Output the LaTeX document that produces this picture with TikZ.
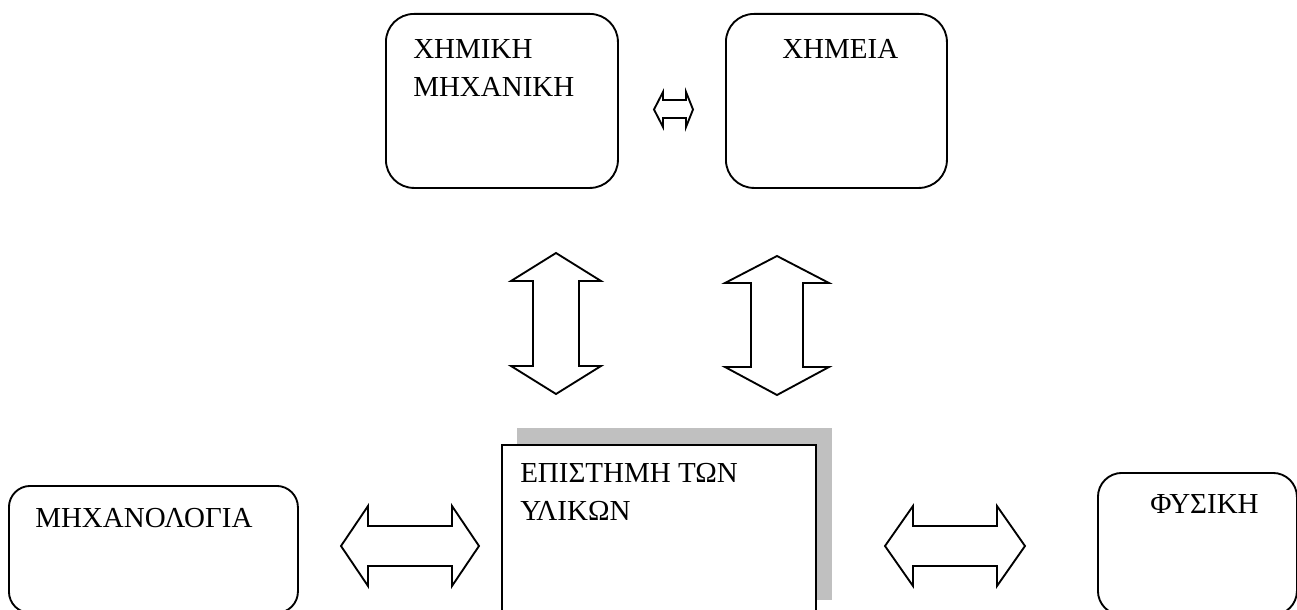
\documentclass[tikz,border=0pt]{standalone}
\usepackage{fontspec}
\setmainfont{Liberation Serif}
\begin{document}
\begin{tikzpicture}[x=0.75pt,y=-0.75pt,
  rbox/.style={draw=black, line width=1.4pt, fill=white, anchor=north west, inner sep=0pt},
  sbox/.style={draw=black, line width=1.4pt, fill=white, anchor=north west, inner sep=0pt},
  shadowbox/.style={fill=shadowgray, draw=none, anchor=north west, inner sep=0pt},
  lbl/.style={anchor=base west, inner sep=0pt, align=left, font=\fontsize{21.75pt}{28.5pt}\selectfont},
  barrow/.style={draw=black, line width=1.4pt, fill=white, line join=miter}]
\definecolor{shadowgray}{RGB}{192,192,192}
\useasboundingbox (0,0) rectangle (1297,610);
\clip (0,0) rectangle (1297,610);

% top boxes
\node[rbox, rounded corners=21pt, minimum width=232*0.75pt, minimum height=174*0.75pt] (chemeng) at (385,13) {};
\node[rbox, rounded corners=21pt, minimum width=221*0.75pt, minimum height=174*0.75pt] (chem) at (725,13) {};
\node[lbl] (chemengtxt) at (413,97) {ΧΗΜΙΚΗ\\ΜΗΧΑΝΙΚΗ};
\node[lbl] (chemtxt) at (782,59) {ΧΗΜΕΙΑ};

% bottom boxes
\node[rbox, rounded corners=16pt, minimum width=289*0.75pt, minimum height=127*0.75pt] (mech) at (8,485) {};
\node[lbl] (mechtxt) at (35,527) {ΜΗΧΑΝΟΛΟΓΙΑ};

\node[shadowbox, minimum width=315*0.75pt, minimum height=172*0.75pt] (matshadow) at (517,428) {};
\node[sbox, minimum width=314*0.75pt, minimum height=172*0.75pt] (mat) at (501,444) {};
\node[lbl] (mattxt) at (520,520) {ΕΠΙΣΤΗΜΗ ΤΩΝ\\ΥΛΙΚΩΝ};

\node[rbox, rounded corners=18pt, minimum width=199*0.75pt, minimum height=142*0.75pt] (phys) at (1097,472) {};
\node[lbl] (phystxt) at (1150,513) {ΦΥΣΙΚΗ};

% small double arrow between top boxes
\draw[barrow] (654,109.5) -- (663,92) -- (663,100) -- (686,100) -- (686,92) -- (693,109.5)
  -- (686,127) -- (686,118) -- (663,118) -- (663,127) -- cycle;

% vertical double arrows
\draw[barrow] (556,253) -- (601,281) -- (579,281) -- (579,366) -- (601,366) -- (556,394)
  -- (511,366) -- (533,366) -- (533,281) -- (511,281) -- cycle;
\draw[barrow] (777,256) -- (829,283) -- (803,283) -- (803,367) -- (829,367) -- (777,395)
  -- (725,367) -- (751,367) -- (751,283) -- (725,283) -- cycle;

% horizontal double arrows
\draw[barrow] (341,546) -- (368,506) -- (368,526) -- (452,526) -- (452,506) -- (479,546)
  -- (452,586) -- (452,566) -- (368,566) -- (368,586) -- cycle;
\draw[barrow] (885,546) -- (913,506) -- (913,526) -- (997,526) -- (997,506) -- (1025,546)
  -- (997,586) -- (997,566) -- (913,566) -- (913,586) -- cycle;
\end{tikzpicture}
\end{document}
